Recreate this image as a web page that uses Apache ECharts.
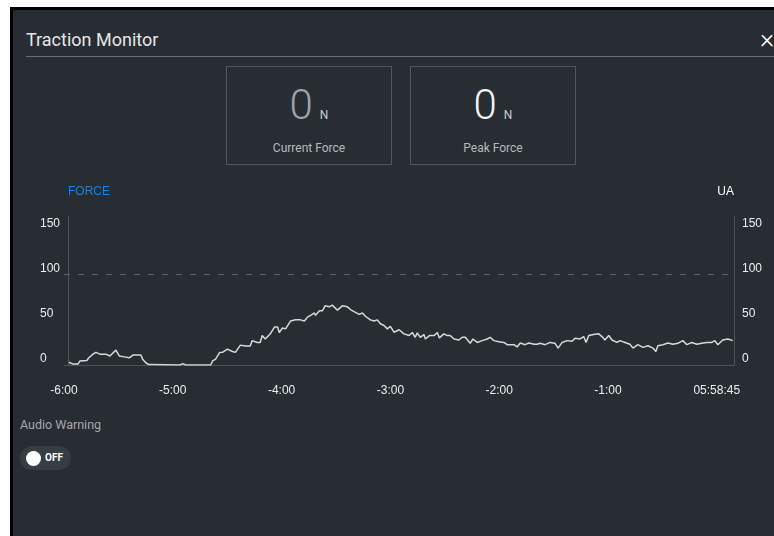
<!DOCTYPE html>
<html>
<head>
<meta charset="utf-8">
<title>Traction Monitor</title>
<script src="https://cdn.jsdelivr.net/npm/echarts@6/dist/echarts.min.js"></script>
<style>
  html, body { margin: 0; padding: 0; width: 774px; height: 536px; overflow: hidden; background: #fff; font-family: Roboto, "Noto Sans", sans-serif; }
  .frame { position: absolute; left: 10px; top: 7px; right: 0; bottom: 0; background: #000; }
  .panel { position: absolute; left: 13px; top: 10px; right: 0; bottom: 0; background: #272d32; }
  .title { position: absolute; left: 26px; top: 28px; font-size: 18px; line-height: 24px; color: #e4e6e8; }
  .close { position: absolute; left: 760px; top: 25px; font-size: 27px; line-height: 28px; font-weight: 300; color: #fff; }
  .rule { position: absolute; left: 26px; top: 56px; right: 0; height: 1px; background: #6a6f74; }
  .box { position: absolute; top: 66px; width: 164px; height: 97px; border: 1px solid #50575c; text-align: center; }
  .box .val { position: absolute; left: 0; right: 0; top: 17px; font-size: 42px; line-height: 42px; font-weight: 300; }
  .box .unit { font-size: 12px; margin-left: 7px; color: #c8ccd0; font-weight: 400; }
  .box .lbl { position: absolute; left: 0; right: 0; top: 73px; font-size: 12px; line-height: 16px; color: #b5b9bd; }
  .audio { position: absolute; left: 20px; top: 417px; font-size: 12.5px; line-height: 16px; color: #a4a8ad; }
  .toggle { position: absolute; left: 20px; top: 446px; width: 51px; height: 24px; border-radius: 12px; background: #363d43; }
  .knob { position: absolute; left: 6px; top: 5px; width: 15px; height: 15px; border-radius: 50%; background: #fff; }
  .off { position: absolute; left: 25px; top: 6px; font-size: 10px; line-height: 12px; font-weight: bold; color: #fff; }
  #main { position: absolute; left: 0; top: 0; width: 774px; height: 536px; }
</style>
</head>
<body>
<div class="frame"></div>
<div class="panel"></div>
<div class="title">Traction Monitor</div>
<div class="close">×</div>
<div class="rule"></div>
<div class="box" style="left:226px"><div class="val" style="color:#9ea3a8">0<span class="unit">N</span></div><div class="lbl">Current Force</div></div>
<div class="box" style="left:410px"><div class="val" style="color:#f4f4f4">0<span class="unit">N</span></div><div class="lbl">Peak Force</div></div>
<div class="audio">Audio Warning</div>
<div class="toggle"><div class="knob"></div><div class="off">OFF</div></div>
<div id="main"></div>

<script>
// seconds relative to now (05:58:45)
var timeSec = [
  -357.3, -355, -352.3, -351.2, -347.4, -346.3, -344, -342.4, -340.2, -336.9,
  -334.7, -331.4, -329.5, -326.7, -324, -322, -317.6, -316.5, -314.9, -313.2,
  -296, -294.5, -293, -279.1, -278, -276.4, -274.2, -272.6, -269.9, -267.1,
  -265.5, -262.7, -260, -257.3, -256.2, -253.4, -251.8, -250.7, -249, -246.1,
  -243.9, -242.2, -241.3, -239.5, -237.8, -236.7, -235.1, -232.3, -229.6, -227.4,
  -225.7, -224, -221.9, -221.3, -219.1, -217.5, -216, -213.8, -212, -209.2,
  -206.5, -203.7, -202, -199.8, -197.2, -195.4, -193.8, -191, -189, -187.2,
  -185.5, -183.5, -181.7, -180, -178, -177.3, -175.2, -172.5, -169.7, -167.9,
  -166.3, -165.2, -163.5, -161.5, -160.7, -158.5, -155.8, -154.1, -153, -150.5,
  -148.6, -147, -144.9, -142.2, -140.4, -138.7, -136, -134.5, -132.1, -129.4,
  -126.6, -125, -122.9, -120.2, -117.4, -115.6, -113.4, -111.8, -110.1, -108.4,
  -105.7, -103.7, -100.7, -99.1, -97.4, -94.7, -91.9, -89.2, -87.5, -85.3,
  -82.6, -79.8, -78.2, -75.4, -73.4, -72.1, -70.6, -67.9, -65.1, -63.3,
  -61.7, -59.6, -57.8, -55, -53.4, -50.6, -47.9, -46.2, -43.5, -40.7,
  -38, -35.2, -33.6, -32.5, -29.7, -27, -24.2, -21.5, -18.7, -16.5,
  -13.8, -11, -8.3, -5.5, -2.8, -1.1, 0.6, 3.3, 6.1, 8.8
];
var forceValues = [
  3, 1, 1, 4.5, 5, 8, 12, 14, 12, 12,
  10, 16.5, 10, 9, 8, 11, 11, 6, 2.5, 0.5,
  0, 1.5, 0, 0, 4.5, 6.5, 13.8, 14, 17.6, 15,
  14, 22, 21, 21, 27, 25, 25, 32.6, 28.8, 35,
  42, 42, 36, 41, 40, 38, 48.7, 50, 50, 48.7,
  53, 55, 57.6, 55, 60, 60, 65.5, 64.4, 66.3, 60.7,
  65.5, 64.4, 61.4, 58.8, 56, 57.6, 54, 50, 48.7, 50,
  45.7, 43.8, 40, 42.7, 36.3, 36.3, 39, 34.5, 32.6, 36,
  30.7, 35.6, 30.7, 33.7, 28.8, 32.6, 32.6, 36, 30, 34.5,
  32.6, 32.6, 28.8, 27.7, 30.7, 30.7, 24, 28.8, 25, 27,
  28.8, 30.7, 27, 25.8, 25, 22.5, 22.5, 22.5, 20, 24.3,
  22.5, 24.3, 23, 23, 24, 22.5, 25, 24, 18.7, 25,
  27, 26.2, 29.6, 28.8, 31.5, 25, 32.6, 33.7, 34.5, 31.5,
  27.7, 32.6, 27.7, 25, 27, 25, 23, 18.7, 22.5, 19.5,
  21.3, 18.7, 15, 21.3, 22.5, 24.3, 23, 24, 27, 22.5,
  25, 23, 24, 25, 25, 27, 22.5, 27.7, 28.8, 27
];
var nowLabel = '05:58:45';
var warnLevel = 100;

var seriesData = timeSec.map(function (t, i) { return [t, forceValues[i]]; });

var axisColor = '#4c5359';
var labelColor = '#eceff1';

function yLabel(v) {
  return v % 50 === 0 ? String(v) : '';
}

var myChart = echarts.init(document.getElementById('main'));
var option = {
  animation: false,
  grid: { left: 64, right: 40, top: 216, bottom: 171, outerBoundsMode: 'none' },
  xAxis: {
    type: 'value',
    min: -360,
    max: 9.5,
    interval: 60,
    axisLine: { lineStyle: { color: axisColor } },
    axisTick: { show: false },
    splitLine: { show: false },
    axisLabel: {
      color: labelColor,
      fontSize: 12,
      margin: 20,
      formatter: function (v) {
        if (v === 0) return nowLabel;
        if (v > 0 || v % 60 !== 0) return '';
        return '-' + (-v / 60) + ':00';
      }
    }
  },
  yAxis: [
    {
      type: 'value',
      position: 'left',
      min: 0,
      max: 165,
      interval: 50,
      offset: -4,
      name: 'FORCE',
      nameLocation: 'end',
      nameGap: 24,
      nameTextStyle: { color: '#1f80d8', fontSize: 12, align: 'left', verticalAlign: 'middle' },
      axisLine: { show: true, onZero: false, lineStyle: { color: axisColor } },
      axisTick: { show: false },
      splitLine: { show: false },
      axisLabel: { color: labelColor, fontSize: 12, align: 'left', margin: 28, verticalAlign: 'bottom', formatter: yLabel }
    },
    {
      type: 'value',
      position: 'right',
      min: 0,
      max: 165,
      interval: 50,
      name: 'UA',
      nameLocation: 'end',
      nameGap: 24,
      nameTextStyle: { color: '#ffffff', fontSize: 12, align: 'right', verticalAlign: 'middle' },
      axisLine: { show: true, onZero: false, lineStyle: { color: axisColor } },
      axisTick: { show: false },
      splitLine: { show: false },
      axisLabel: { color: labelColor, fontSize: 12, align: 'left', margin: 8, verticalAlign: 'bottom', formatter: yLabel }
    }
  ],
  series: [
    {
      name: 'Force',
      type: 'line',
      yAxisIndex: 0,
      data: seriesData,
      showSymbol: false,
      lineStyle: { color: '#d8d8d8', width: 1.5 },
      markLine: {
        silent: true,
        symbol: 'none',
        label: { show: false },
        lineStyle: { color: '#5b6268', type: [6, 8], width: 1 },
        data: [{ yAxis: warnLevel }]
      }
    }
  ]
};
myChart.setOption(option);
</script>
</body>
</html>
